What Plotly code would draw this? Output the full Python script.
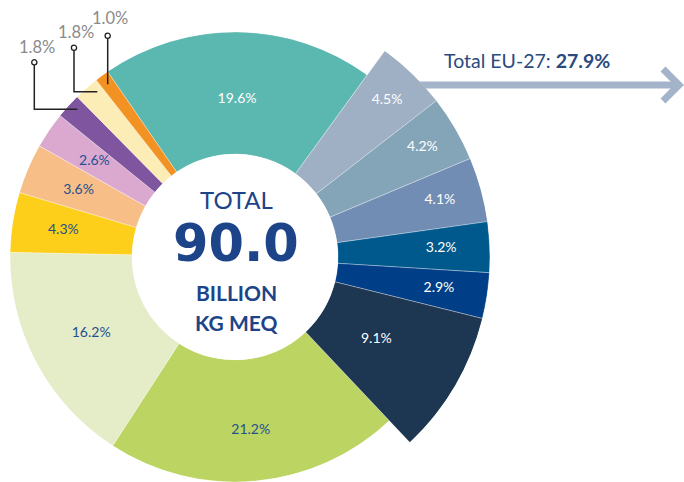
import plotly.graph_objects as go

# Share of the total (%) per segment, clockwise starting from the large teal segment
shares = [19.6, 4.5, 4.2, 4.1, 3.2, 2.9, 9.1, 21.2, 16.2, 4.3, 3.6, 2.6, 1.8, 1.8, 1.0]
in_eu27 = [False, True, True, True, True, True, True,
           False, False, False, False, False, False, False, False]
total_billion_kg_meq = 90.0
eu27_total_share = 27.9

# Styling
slice_colors = ["#5bb8b0", "#9fb0c4", "#84a5b8", "#718db4", "#00598c", "#003f87",
                "#1d3651", "#bcd462", "#e4edc8", "#fecf1a", "#f7be88", "#dba9d0",
                "#7f559f", "#fcecb6", "#f29223"]
label_colors = ["#ffffff"] * 7 + ["#25508f"] * 8
# radial position of each in-slice label (0 = hole edge, 1 = outer edge)
label_radius = [0.45, 0.76, 0.75, 0.72, 0.68, 0.68, 0.40,
                0.58, 0.49, 0.58, 0.55, 0.55, None, None, None]

W, H = 684, 482
CX, CY = 235, 257          # centre of the ring (px)
R_MAIN, R_EU, R_HOLE = 225, 255, 103
START_DEG = -34.5          # clockwise from 12 o'clock
EU_SECTOR = 60             # half-span of the EU subplot sector (deg)
DARK_BLUE = "#1d4488"
FONT = "Lato"


def px(x):
    return x / W


def py(y):
    return 1 - y / H


total = sum(shares)
widths = [s / total * 360 for s in shares]
mids = []
acc = START_DEG
for w in widths:
    mids.append(acc + w / 2)
    acc += w

fig = go.Figure()

for subplot, eu in (("polar", False), ("polar2", True)):
    idx = [i for i in range(len(shares)) if in_eu27[i] == eu]
    fig.add_trace(go.Barpolar(
        r=[1] * len(idx),
        theta=[mids[i] for i in idx],
        width=[widths[i] for i in idx],
        marker=dict(color=[slice_colors[i] for i in idx],
                    line=dict(color="rgba(255,255,255,0.55)", width=0.6)),
        subplot=subplot, hoverinfo="skip", showlegend=False,
    ))
    lab = [i for i in idx if label_radius[i] is not None]
    fig.add_trace(go.Scatterpolar(
        r=[label_radius[i] for i in lab],
        theta=[mids[i] for i in lab],
        mode="text",
        text=[f"{shares[i]:.1f}%" for i in lab],
        textfont=dict(family=FONT, size=14,
                      color=[label_colors[i] for i in lab]),
        subplot=subplot, hoverinfo="skip", showlegend=False,
    ))

hidden_axes = dict(
    radialaxis=dict(visible=False, range=[0, 1]),
    angularaxis=dict(visible=False, direction="clockwise", rotation=90),
    bgcolor="rgba(0,0,0,0)",
)
sin_s = 0.8660254
fig.update_layout(
    width=W, height=H,
    margin=dict(l=0, r=0, t=0, b=0),
    paper_bgcolor="white", plot_bgcolor="white",
    showlegend=False,
    polar=dict(domain=dict(x=[px(CX - R_MAIN), px(CX + R_MAIN)],
                           y=[py(CY + R_MAIN), py(CY - R_MAIN)]),
               hole=R_HOLE / R_MAIN, **hidden_axes),
    polar2=dict(domain=dict(x=[px(CX), px(CX + R_EU)],
                            y=[py(CY + R_EU * sin_s), py(CY - R_EU * sin_s)]),
                sector=[-EU_SECTOR, EU_SECTOR],
                hole=R_HOLE / R_EU, **hidden_axes),
)

# Centre caption
centre = [
    ("TOTAL", 199, 24, 400, FONT),
    (f"{total_billion_kg_meq:.1f}", 243, 51, 700, "DejaVu Sans"),
    ("BILLION", 292, 21, 700, FONT),
    ("KG MEQ", 322, 21, 700, FONT),
]
for text, y, size, weight, family in centre:
    fig.add_annotation(x=px(CX + 1), y=py(y), xref="paper", yref="paper",
                       text=text, showarrow=False, xanchor="center", yanchor="middle",
                       font=dict(family=family, size=size, color=DARK_BLUE, weight=weight))

# EU-27 arrow and caption
ARROW = "#a3b3c9"
fig.add_shape(type="line", xref="paper", yref="paper",
              x0=px(417), y0=py(85), x1=px(678), y1=py(85),
              line=dict(color=ARROW, width=7), layer="below")
fig.add_shape(type="path", xref="paper", yref="paper",
              path=f"M {px(663)},{py(69)} L {px(679)},{py(85)} L {px(663)},{py(101)}",
              line=dict(color=ARROW, width=7))
fig.add_annotation(x=px(442), y=py(60), xref="paper", yref="paper",
                   text=f"Total EU-27: <b>{eu27_total_share:.1f}%</b>",
                   showarrow=False, xanchor="left", yanchor="middle",
                   font=dict(family=FONT, size=19.5, color="#2a4a80"))

# Callouts for the three thin segments
callouts = [
    # slice index, dot (px), elbow (px) or None, leader end (px), label centre (px)
    (12, (34.3, 62.3), (34.3, 109.3), (77.3, 109.3), (36.5, 47.5)),
    (13, (74.0, 47.7), (74.0, 91.7), (97.3, 91.7), (76.0, 32.5)),
    (14, (107.7, 35.7), None, (107.7, 84.3), (110.0, 18.0)),
]
for i, dot, elbow, end, lab in callouts:
    pts = [dot] + ([elbow] if elbow else []) + [end]
    path = "M " + " L ".join(f"{px(x)},{py(y)}" for x, y in pts)
    fig.add_shape(type="path", xref="paper", yref="paper", path=path,
                  line=dict(color="#222222", width=1.5))
    rr = 2.6
    fig.add_shape(type="circle", xref="paper", yref="paper",
                  x0=px(dot[0] - rr), x1=px(dot[0] + rr),
                  y0=py(dot[1] + rr), y1=py(dot[1] - rr),
                  fillcolor="white", line=dict(color="#222222", width=1.3))
    fig.add_annotation(x=px(lab[0]), y=py(lab[1]), xref="paper", yref="paper",
                       text=f"{shares[i]:.1f}%", showarrow=False,
                       xanchor="center", yanchor="middle",
                       font=dict(family=FONT, size=16.5, color="#8a8a8a"))

fig.write_html("out.html")
